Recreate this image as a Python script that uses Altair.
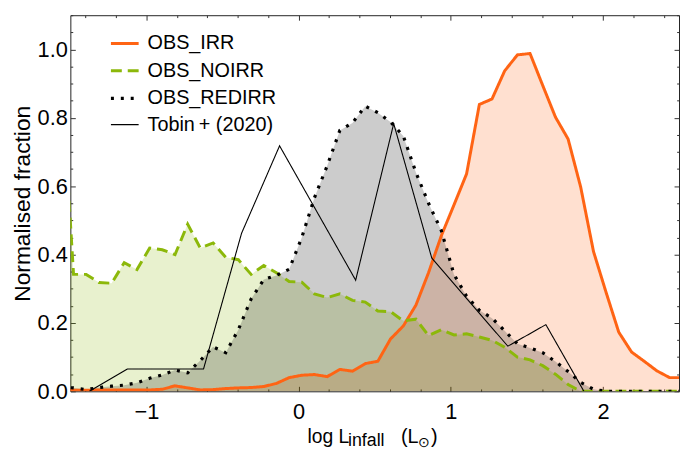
import altair as alt
import pandas as pd

# ---------------- data ----------------
x_bins = [-1.562, -1.479, -1.396, -1.312, -1.229, -1.146, -1.062, -0.979, -0.896, -0.812,
          -0.729, -0.646, -0.562, -0.479, -0.396, -0.312, -0.229, -0.146, -0.062, 0.021,
          0.104, 0.188, 0.271, 0.354, 0.438, 0.521, 0.604, 0.688, 0.771, 0.854,
          0.938, 1.021, 1.104, 1.188, 1.271, 1.354, 1.438, 1.521, 1.604, 1.688,
          1.771, 1.854, 1.938, 2.021, 2.104, 2.188, 2.271, 2.354, 2.438, 2.521]

obs_irr = [0.003, 0.003, 0.003, 0.004, 0.004, 0.004, 0.004, 0.004, 0.006, 0.016,
           0.010, 0.004, 0.005, 0.008, 0.010, 0.011, 0.014, 0.023, 0.040, 0.047,
           0.049, 0.043, 0.064, 0.059, 0.081, 0.088, 0.153, 0.191, 0.252, 0.347,
           0.455, 0.545, 0.636, 0.839, 0.855, 0.937, 0.984, 0.988, 0.895, 0.802,
           0.738, 0.597, 0.409, 0.289, 0.173, 0.115, 0.088, 0.060, 0.040, 0.040]

obs_noirr = [0.950, 0.342, 0.342, 0.318, 0.316, 0.376, 0.356, 0.419, 0.414, 0.400,
             0.489, 0.419, 0.434, 0.392, 0.385, 0.342, 0.368, 0.347, 0.321, 0.319,
             0.285, 0.274, 0.285, 0.266, 0.261, 0.235, 0.233, 0.206, 0.211, 0.163,
             0.180, 0.165, 0.168, 0.159, 0.149, 0.129, 0.100, 0.092, 0.075, 0.050,
             0.020, 0.000, 0.000, 0.000, 0.000, 0.000, 0.000, 0.000, 0.000, 0.000]

obs_redirr = [0.012, 0.010, 0.005, 0.011, 0.015, 0.018, 0.025, 0.038, 0.048, 0.062,
              0.054, 0.090, 0.130, 0.113, 0.180, 0.270, 0.327, 0.339, 0.357, 0.450,
              0.566, 0.660, 0.763, 0.785, 0.834, 0.815, 0.788, 0.747, 0.640, 0.550,
              0.470, 0.342, 0.278, 0.237, 0.214, 0.177, 0.139, 0.127, 0.113, 0.087,
              0.058, 0.026, 0.006, 0.000, 0.000, 0.000, 0.000, 0.000, 0.000, 0.000]

tobin_x = [-1.375, -1.125, -0.875, -0.625, -0.375, -0.125, 0.375, 0.625, 0.875, 1.375, 1.625, 1.875]
tobin_y = [0.000, 0.065, 0.065, 0.065, 0.462, 0.718, 0.325, 0.783, 0.390, 0.132, 0.195, 0.000]

series_names = ["OBS_IRR", "OBS_NOIRR", "OBS_REDIRR", "Tobin\u2009+ (2020)"]
line_colors = ["#ff6414", "#8cb80a", "#000000", "#000000"]
line_dashes = [[1, 0], [11, 6], [3, 7], [1, 0]]
line_widths = [3, 3, 3.2, 1.1]

x_tick_values = [-1.4, -1.2, -1.0, -0.8, -0.6, -0.4, -0.2, 0.0, 0.2, 0.4, 0.6, 0.8, 1.0,
                 1.2, 1.4, 1.6, 1.8, 2.0, 2.2, 2.4]
y_tick_values = [0.0, 0.05, 0.1, 0.15, 0.2, 0.25, 0.3, 0.35, 0.4, 0.45, 0.5, 0.55, 0.6,
                 0.65, 0.7, 0.75, 0.8, 0.85, 0.9, 0.95, 1.0, 1.05, 1.1]

# x-axis title pieces (text, size, left offset in px from plot left, baseline px from plot top)
title_text = ["log L", "infall", "(L", "\u2299", ")"]
title_size = [19.5, 18, 20, 14, 20]
title_px = [239.5, 280.5, 334.0, 351.5, 364.5]
title_py = [432, 435, 432, 436, 432]

FONT = "Liberation Sans"

# ---------------- tables ----------------
rows = []
for name, ys in zip(series_names[:3], [obs_irr, obs_noirr, obs_redirr]):
    for x, y in zip(x_bins, ys):
        rows.append({"series": name, "x": x, "y": y})
for x, y in zip(tobin_x, tobin_y):
    rows.append({"series": series_names[3], "x": x, "y": y})
df = pd.DataFrame(rows)
df_fill = df[df["series"] != series_names[3]]

df_title = pd.DataFrame({"t": title_text, "fs": title_size, "px": title_px, "py": title_py})

xscale = alt.Scale(domain=[-1.5, 2.5], nice=False, zero=False)
yscale = alt.Scale(domain=[0, 1.1], nice=False, zero=False)

x_major = "abs(datum.value - round(datum.value)) < 1e-6"
y_major = "abs(datum.value*5 - round(datum.value*5)) < 1e-6"

TICK = dict(domain=False, grid=False, tickColor="#333333", tickWidth=1, tickSize=5, offset=-5,
            labelOverlap=False)


def tdash(test):
    return {"condition": {"test": test, "value": [6, 0]}, "value": [0, 2.6, 2.6]}


x_bottom = alt.Axis(orient="bottom", values=x_tick_values, format=".0f",
                    labelExpr=f"{x_major} ? datum.label : ''", labelFont=FONT, labelFontSize=22,
                    labelColor="#000000", labelPadding=10, title=None, tickDash=tdash(x_major), **TICK)
x_top = alt.Axis(orient="top", values=x_tick_values, labels=False, title=None,
                 tickDash=tdash(x_major), **TICK)
y_left = alt.Axis(orient="left", values=y_tick_values, format=".1f",
                  labelExpr=f"{y_major} ? datum.label : ''", labelFont=FONT, labelFontSize=22,
                  labelColor="#000000", labelPadding=3, title="Normalised fraction",
                  titleFont=FONT, titleFontSize=23, titleFontWeight="normal", titleColor="#000000",
                  titlePadding=3, tickDash=tdash(y_major), **TICK)
y_right = alt.Axis(orient="right", values=y_tick_values, labels=False, title=None,
                   tickDash=tdash(y_major), **TICK)

area = alt.Chart(df_fill).mark_area(fillOpacity=0.2, clip=True).encode(
    x=alt.X("x:Q", scale=xscale, axis=x_bottom),
    y=alt.Y("y:Q", scale=yscale, axis=y_left, stack=None),
    fill=alt.Fill("series:N", scale=alt.Scale(domain=series_names[:3], range=line_colors[:3]),
                  legend=None),
)

leg = alt.Legend(orient="none", legendX=39, legendY=13, title=None, labelFont=FONT,
                 labelFontSize=20, labelColor="#000000", symbolSize=784, symbolType="stroke",
                 labelOffset=7, rowPadding=1.5, padding=0)

lines = alt.Chart(df).mark_line(clip=True).encode(
    x=alt.X("x:Q", scale=xscale, axis=x_top),
    y=alt.Y("y:Q", scale=yscale, axis=y_right),
    color=alt.Color("series:N", scale=alt.Scale(domain=series_names, range=line_colors), legend=leg),
    strokeDash=alt.StrokeDash("series:N", scale=alt.Scale(domain=series_names, range=line_dashes),
                              legend=leg),
    strokeWidth=alt.StrokeWidth("series:N", scale=alt.Scale(type="ordinal", domain=series_names,
                                                             range=line_widths), legend=leg),
)

xtitle = alt.Chart(df_title).mark_text(align="left", baseline="alphabetic", font=FONT,
                                       color="#000000").encode(
    x=alt.X("px:Q", scale=None, axis=None),
    y=alt.Y("py:Q", scale=None, axis=None),
    text="t:N",
    size=alt.Size("fs:Q", scale=None, legend=None),
)

chart = alt.layer(area, lines, xtitle).resolve_axis(x="independent", y="independent").properties(
    width=615, height=380,
    autosize=alt.AutoSizeParams(type="none"),
    padding={"left": 63, "top": 5, "right": 1, "bottom": 56},
).configure_view(stroke="#222222", strokeWidth=1)

chart.save("out.html", embed_options={"renderer": "svg", "actions": False})
